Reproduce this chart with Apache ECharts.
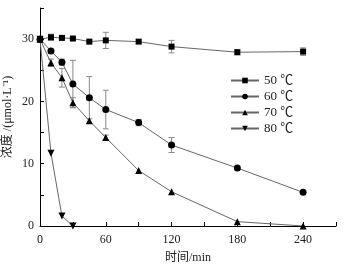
<!DOCTYPE html>
<html>
<head>
<meta charset="utf-8">
<script src="https://cdn.jsdelivr.net/npm/echarts@6/dist/echarts.min.js"></script>
<style>
  html, body { margin: 0; padding: 0; background: #fff; }
  #chart { width: 362px; height: 267px; }
</style>
</head>
<body>
<div id="chart"></div>
<script>
// 时间点 (min)
const times = [0, 10, 20, 30, 45, 60, 90, 120, 180, 240];
const times80 = [0, 10, 20, 30];
// 各温度下浓度
const c50 = [30.0, 30.3, 30.2, 30.1, 29.6, 29.8, 29.6, 28.8, 27.9, 28.0];
const c60 = [30.0, 28.1, 26.3, 22.8, 20.6, 18.7, 16.6, 13.0, 9.3, 5.4];
const c70 = [30.0, 26.2, 23.8, 19.8, 16.9, 14.2, 8.9, 5.5, 0.7, 0.0];
const c80 = [30.0, 11.7, 1.6, 0.0];
// 误差 (±)
const e50 = [0, 0.5, 0.2, 0.2, 0.2, 1.3, 0.3, 1.0, 0.4, 0.6];
const e60 = [0, 0.3, 0.5, 3.8, 3.4, 3.1, 0.5, 1.2, 0, 0];
const e70 = [0, 0.6, 1.5, 0.8, 0, 0.4, 0, 0, 0, 0];
const names = ['50 ℃', '60 ℃', '70 ℃', '80 ℃'];

const font = '"Liberation Serif", "Noto Sans CJK SC", serif';

function pairs(xs, ys) {
  return xs.map((x, i) => [x, ys[i]]);
}
function errData(xs, ys, es) {
  let out = [];
  for (let i = 0; i < xs.length; i++) {
    if (es[i] > 0) out.push([xs[i], ys[i] - es[i], ys[i] + es[i]]);
  }
  return out;
}
function renderErr(params, api) {
  const lo = api.coord([api.value(0), api.value(1)]);
  const hi = api.coord([api.value(0), api.value(2)]);
  const w = 3;
  const st = { stroke: '#8a8a8a', lineWidth: 1 };
  return {
    type: 'group',
    children: [
      { type: 'line', shape: { x1: lo[0], y1: lo[1], x2: hi[0], y2: hi[1] }, style: st },
      { type: 'line', shape: { x1: lo[0] - w, y1: lo[1], x2: lo[0] + w, y2: lo[1] }, style: st },
      { type: 'line', shape: { x1: hi[0] - w, y1: hi[1], x2: hi[0] + w, y2: hi[1] }, style: st }
    ]
  };
}
function errSeries(data) {
  return {
    type: 'custom',
    renderItem: renderErr,
    data: data,
    encode: { x: 0, y: [1, 2] },
    z: 1,
    silent: true
  };
}
function lineSeries(name, data, symbol, size, rotate) {
  return {
    name: name,
    type: 'line',
    data: data,
    symbol: symbol,
    symbolSize: size,
    symbolRotate: rotate || 0,
    showAllSymbol: true,
    itemStyle: { color: '#000' },
    lineStyle: { color: '#666', width: 1 },
    z: 3
  };
}

const chart = echarts.init(document.getElementById('chart'), null, { renderer: 'canvas' });
chart.setOption({
  animation: false,
  backgroundColor: '#fff',
  textStyle: { fontFamily: font },
  grid: { left: 40, right: 26, top: 8, bottom: 41, containLabel: false, outerBoundsMode: 'none' },
  legend: {
    orient: 'vertical',
    left: 225,
    top: 69,
    itemWidth: 28,
    itemHeight: 7,
    itemGap: 3,
    data: names,
    textStyle: { fontFamily: font, fontSize: 13, color: '#222' }
  },
  xAxis: {
    type: 'value',
    min: 0, max: 270, interval: 30,
    name: '时间/min',
    nameLocation: 'middle',
    nameGap: 26,
    nameMoveOverlap: false,
    nameTextStyle: { fontFamily: font, fontSize: 12, color: '#222' },
    axisLine: { lineStyle: { color: '#000', width: 1 } },
    axisTick: { inside: true, length: 4, lineStyle: { color: '#000' } },
    axisLabel: {
      fontFamily: font, fontSize: 12, color: '#222', margin: 8,
      formatter: v => (v % 60 === 0 && v <= 240 ? String(v) : '')
    },
    splitLine: { show: false }
  },
  yAxis: {
    type: 'value',
    min: 0, max: 35, interval: 5,
    name: '浓度 /(μmol·L⁻¹)',
    nameLocation: 'middle',
    nameGap: 26,
    nameMoveOverlap: false,
    nameTextStyle: { fontFamily: font, fontSize: 12, color: '#222' },
    axisLine: { show: true, lineStyle: { color: '#000', width: 1 } },
    axisTick: { show: true, inside: true, length: 4, lineStyle: { color: '#000' } },
    axisLabel: {
      fontFamily: font, fontSize: 12, color: '#222', margin: 6,
      formatter: v => (v % 10 === 0 && v <= 30 ? String(v) : '')
    },
    splitLine: { show: false }
  },
  series: [
    errSeries(errData(times, c50, e50)),
    errSeries(errData(times, c60, e60)),
    errSeries(errData(times, c70, e70)),
    lineSeries(names[3], pairs(times80, c80), 'triangle', 7, 180),
    lineSeries(names[2], pairs(times, c70), 'triangle', 7),
    lineSeries(names[1], pairs(times, c60), 'circle', 7),
    lineSeries(names[0], pairs(times, c50), 'rect', 6)
  ]
});
</script>
</body>
</html>
